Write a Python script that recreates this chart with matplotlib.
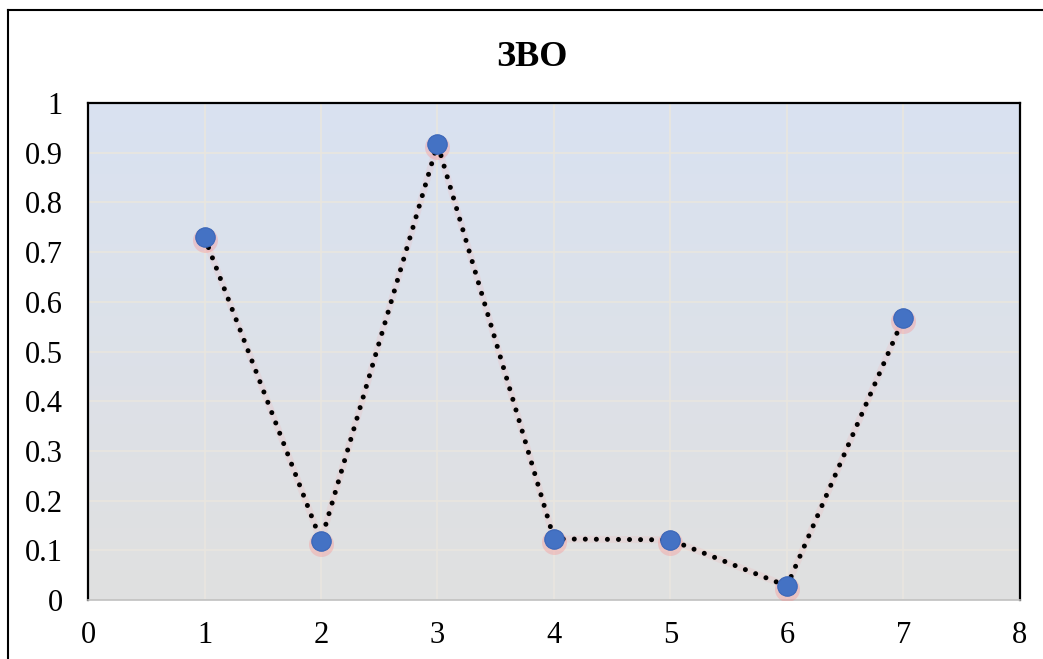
import numpy as np
import matplotlib
matplotlib.use('Agg')
import matplotlib.pyplot as plt
from matplotlib.lines import Line2D

#DATA
x = [1, 2, 3, 4, 5, 6, 7]
y = [0.73, 0.119, 0.918, 0.123, 0.121, 0.028, 0.567]
xticks = [0, 1, 2, 3, 4, 5, 6, 7, 8]
yticks = [0, 0.1, 0.2, 0.3, 0.4, 0.5, 0.6, 0.7, 0.8, 0.9, 1]
ylabels = ['0', '0.1', '0.2', '0.3', '0.4', '0.5', '0.6', '0.7', '0.8', '0.9', '1']
title = 'ЗВО'

plt.rcParams['font.family'] = ['Liberation Serif', 'DejaVu Serif']

fig = plt.figure(figsize=(10.43, 6.59), dpi=100)
ax = fig.add_axes([0.0844, 0.0895, 0.8935, 0.7542])

#gradient background
top = np.array([217, 226, 241]) / 255.0
bot = np.array([224, 224, 224]) / 255.0
t = np.linspace(0, 1, 256)[:, None]
grad = (top * (1 - t) + bot * t)[:, None, :]
ax.imshow(grad, extent=[0, 1, 0, 1], transform=ax.transAxes, aspect='auto', zorder=0)

ax.set_xlim(0, 8)
ax.set_ylim(0, 1)
ax.set_xticks(xticks)
ax.set_yticks(yticks)
ax.set_yticklabels(ylabels)
ax.grid(True, color='#e9e6df', linewidth=1.2, zorder=1)
ax.set_axisbelow(True)
ax.tick_params(length=0, labelsize=22)
ax.tick_params(axis='y', pad=18)
ax.tick_params(axis='x', pad=15)

for s in ['left', 'top', 'right']:
    ax.spines[s].set_color('black')
    ax.spines[s].set_linewidth(1.6)
ax.spines['bottom'].set_color('#c0c0c0')
ax.spines['bottom'].set_linewidth(1.2)

#glow under markers and line
ax.plot(x, y, color='#ff9090', linewidth=5, alpha=0.12, zorder=2)
ax.plot(x, [v - 0.006 for v in y], 'o', color='#ff8080', markersize=18, alpha=0.3,
        markeredgewidth=0, zorder=3)
ax.plot(x, y, color='black', linewidth=3.6, linestyle=(0, (0.01, 2.2)),
        dash_capstyle='round', zorder=4)
ax.plot(x, y, 'o', color='#4472c4', markersize=14, markeredgecolor='#3a66b8',
        markeredgewidth=0.8, zorder=5)

fig.text(0.51, 0.913, title, ha='center', va='center', fontsize=26, fontweight='bold')

#outer frame
fig.add_artist(Line2D([0.0077, 0.0077], [0, 0.9848], color='black', linewidth=1.5,
                      transform=fig.transFigure))
fig.add_artist(Line2D([0.0077, 1.0], [0.9848, 0.9848], color='black', linewidth=1.5,
                      transform=fig.transFigure))

fig.savefig('out.png', dpi=100)
